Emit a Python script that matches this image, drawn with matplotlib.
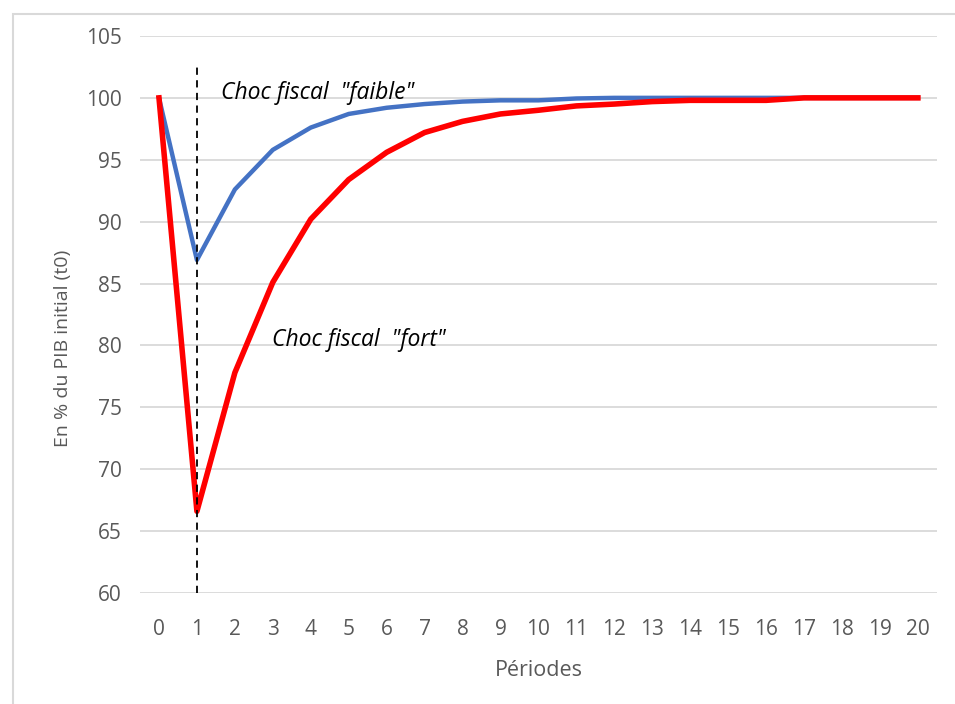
import matplotlib.pyplot as plt
from matplotlib.patches import Rectangle

## Valeurs (en % du PIB initial)
periodes = list(range(21))
choc_faible = [100, 86.9, 92.6, 95.8, 97.6, 98.7, 99.2, 99.5, 99.7, 99.8, 99.8,
               99.95, 100, 100, 100, 100, 100, 100, 100, 100, 100]
choc_fort = [100, 66.6, 77.8, 85.1, 90.2, 93.4, 95.6, 97.2, 98.1, 98.7, 99.0,
             99.35, 99.5, 99.7, 99.8, 99.8, 99.8, 100, 100, 100, 100]
yticks = [60, 65, 70, 75, 80, 85, 90, 95, 100, 105]

plt.rcParams['font.family'] = ['Open Sans', 'DejaVu Sans']

fig = plt.figure(figsize=(9.55, 7.04), dpi=100)
ax = fig.add_axes([0.1466, 0.1577, 0.8344, 0.7912])

## cadre gris autour du graphique
fig.patches.append(Rectangle((13 / 955, -0.01), 1.0, 1 - 14 / 704 + 0.01,
                             transform=fig.transFigure, fill=False,
                             edgecolor='#d9d9d9', linewidth=1.5))

ax.plot(periodes, choc_faible, color='#4472C4', linewidth=3.2, zorder=3,
        solid_joinstyle='round')
ax.plot(periodes, choc_fort, color='#FF0000', linewidth=4, zorder=4,
        solid_joinstyle='round')
ax.plot([1, 1], [60, 102.5], color='black', linestyle=(0, (4, 3)),
        linewidth=1.3, zorder=5, clip_on=False)

ax.text(1.63, 100.4, 'Choc fiscal  "faible"', style='italic', fontsize=16.5,
        va='center', ha='left')
ax.text(2.98, 80.4, 'Choc fiscal  "fort"', style='italic', fontsize=16.5,
        va='center', ha='left')

ax.set_xlim(-0.5, 20.5)
ax.set_ylim(60, 105)
ax.set_xticks(periodes)
ax.set_yticks(yticks)
ax.tick_params(length=0, labelsize=15, colors='#595959')
ax.tick_params(axis='y', pad=13)
ax.tick_params(axis='x', pad=19)
ax.yaxis.grid(True, color='#d9d9d9', linewidth=1.3)
ax.set_axisbelow(True)
for s in ax.spines.values():
    s.set_visible(False)

ax.set_xlabel('Périodes', fontsize=15.5, color='#595959', labelpad=14)
ax.set_ylabel('En % du PIB initial (t0)', fontsize=14, color='#595959')
ax.yaxis.set_label_coords(-0.085, 0.44)

plt.savefig('out.png', dpi=100)
